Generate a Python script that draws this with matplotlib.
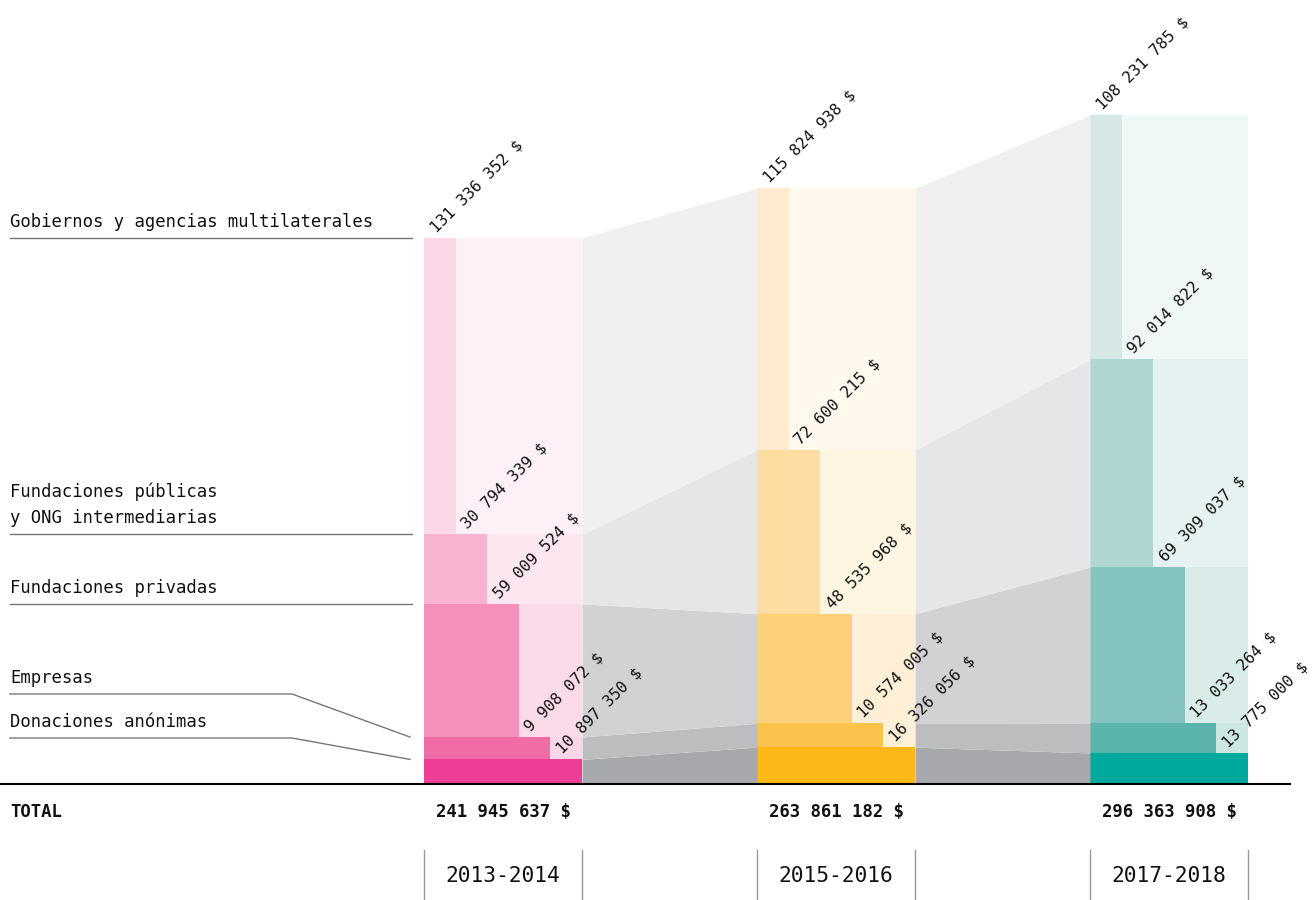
import numpy as np
import matplotlib
matplotlib.use("Agg")
import matplotlib.pyplot as plt

periods = ["2013-2014", "2015-2016", "2017-2018"]
# bottom -> top
categories = ["Donaciones anónimas", "Empresas", "Fundaciones privadas",
              "Fundaciones públicas\ny ONG intermediarias",
              "Gobiernos y agencias multilaterales"]
values = {
    "2013-2014": [10897350, 9908072, 59009524, 30794339, 131336352],
    "2015-2016": [16326056, 10574005, 48535968, 72600215, 115824938],
    "2017-2018": [13775000, 13033264, 69309037, 92014822, 108231785],
}
totals = [241945637, 263861182, 296363908]

dark_colors = {
    "2013-2014": ['#EE3F97', '#F06CA7', '#F391BB', '#F7B3D0', '#FAD8E8'],
    "2015-2016": ['#FBB817', '#FCC24B', '#FDD07A', '#FDDDA2', '#FEEBCD'],
    "2017-2018": ['#00A99D', '#5AB4AB', '#85C4BE', '#AFD6D3', '#D5E8E6'],
}
light_colors = {
    "2013-2014": ['#EE3F97', '#FAD7E8', '#FBDBEA', '#FCE6F0', '#FDF1F7'],
    "2015-2016": ['#FBB817', '#FEF0D7', '#FEEFD6', '#FEF5E3', '#FEF8EE'],
    "2017-2018": ['#00A99D', '#CCE6E4', '#DAECEA', '#E5F2F1', '#F0F7F7'],
}
band_colors = ['#A7A8AB', '#BCBDBF', '#D1D2D4', '#E5E6E7', '#F0F0F0']

plt.rcParams['font.family'] = ['DejaVu Sans Mono']

W, H = 1313, 900
fig = plt.figure(figsize=(W / 100, H / 100), dpi=100)
ax = fig.add_axes([0, 0, 1, 1])
# y in millions of dollars, x in layout units (pixels)
scale = 2.257  # px per million
base_px = 784
ax.set_xlim(0, W)
ax.set_ylim((base_px - H) / scale, base_px / scale)
ax.axis('off')

def px(v):
    # pixel distance -> data distance in y
    return v / scale

lefts = [424, 757, 1090]
bw = 158
step = bw / 5

cums = {}
for p, left in zip(periods, lefts):
    vals = np.array(values[p]) / 1e6
    bottoms = np.concatenate([[0], np.cumsum(vals)[:-1]])
    cums[p] = (bottoms, bottoms + vals)
    for i, (b, v) in enumerate(zip(bottoms, vals)):
        ax.bar(left, v, bottom=b, width=bw, align='edge',
               color=light_colors[p][i], linewidth=0)
        ax.bar(left, v, bottom=b, width=(5 - i) * step, align='edge',
               color=dark_colors[p][i], linewidth=0)
        lab = f"{values[p][i]:,}".replace(',', ' ') + " $"
        ax.annotate(lab, xy=(left + (4 - i) * step, b + v), xytext=(8.5, 3.5),
                    textcoords='offset points', rotation=45,
                    rotation_mode='anchor', ha='left', va='baseline',
                    fontsize=11.3, color='#111111', zorder=5)

# connecting bands
for k in range(2):
    pa, pb = periods[k], periods[k + 1]
    xa, xb = lefts[k] + bw, lefts[k + 1]
    for i in range(5):
        ax.fill_between([xa, xb], [cums[pa][0][i], cums[pb][0][i]],
                        [cums[pa][1][i], cums[pb][1][i]],
                        color=band_colors[i], linewidth=0)

# baseline
ax.plot([0, 1290], [0, 0], color='black', lw=1.5)

# left category labels with leader lines
tops13 = cums["2013-2014"][1]
line_col = '#777777'
for i in [4, 3, 2]:
    y = tops13[i]
    ax.plot([10, 412], [y, y], color=line_col, lw=1)
    ax.text(10, y + px(7), categories[i], ha='left', va='bottom',
            fontsize=12.4, color='#111111', linespacing=1.6)
for i, ly in [(1, 694), (0, 738)]:
    y = (base_px - ly) / scale
    ax.plot([10, 292, 410], [y, y, tops13[i]], color=line_col, lw=1)
    ax.text(10, y + px(7), categories[i], ha='left', va='bottom',
            fontsize=12.4, color='#111111')

# totals
ty = (base_px - 812) / scale
ax.text(10, ty, "TOTAL", ha='left', va='center', fontsize=12.4,
        fontweight='bold', color='#111111')
for t, left in zip(totals, lefts):
    lab = f"{t:,}".replace(',', ' ') + " $"
    ax.text(left + bw / 2, ty, lab, ha='center', va='center', fontsize=12.4,
            fontweight='bold', color='#111111')

# period labels
y0, y1 = (base_px - 850) / scale, (base_px - 900) / scale
for p, left in zip(periods, lefts):
    ax.plot([left, left], [y0, y1], color='#999999', lw=1)
    ax.plot([left + bw, left + bw], [y0, y1], color='#999999', lw=1)
    ax.text(left + bw / 2, (base_px - 876) / scale, p, ha='center',
            va='center', fontsize=15.3, color='#111111')

fig.savefig("out.png", dpi=100)
